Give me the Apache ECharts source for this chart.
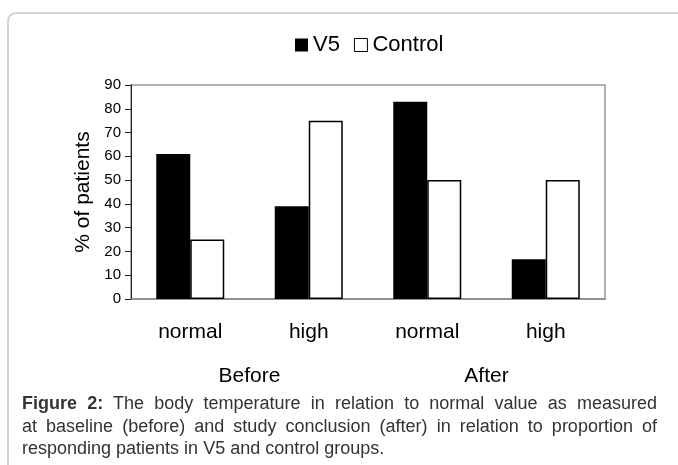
<!DOCTYPE html>
<html>
<head>
<meta charset="utf-8">
<script src="https://cdn.jsdelivr.net/npm/echarts@6/dist/echarts.min.js"></script>
<style>
    html,body{margin:0;padding:0;background:#fff;}
    #wrap{position:relative;width:678px;height:465px;overflow:hidden;}
    #chart{position:absolute;left:0;top:0;width:678px;height:465px;}
    #caption{position:absolute;left:22px;top:392px;width:635px;font-family:"Liberation Sans",Arial,sans-serif;font-size:18px;line-height:22.5px;color:#333;}
    #caption .j{text-align:justify;text-align-last:justify;white-space:nowrap;}
    #caption b{color:#333;}
</style>
</head>
<body>
<div id="wrap">
    <div id="chart"></div>
    <div id="caption">
        <div class="j"><b>Figure 2:</b> The body temperature in relation to normal value as measured</div>
        <div class="j">at baseline (before) and study conclusion (after) in relation to proportion of</div>
        <div>responding patients in V5 and control groups.</div>
    </div>
</div>
<script>
var categories=['normal','high','normal','high'];
var periods=['Before','After'];
var v5Values=[61,39,83,16.7];
var controlValues=[25,75,50,50];
var seriesNames=['V5','Control'];

var chart=(function(){
    var font='"Liberation Sans", Arial, sans-serif';

    return {
        init:function(){
            var myChart=echarts.init(document.getElementById('chart'));
            var option={
                animation:false,
                textStyle:{fontFamily:font,color:'#000'},
                graphic:[
                    {
                        type:'rect',
                        shape:{x:8,y:13,width:720,height:520,r:8},
                        style:{fill:'none',stroke:'#c8c8c8',lineWidth:1.5},
                        silent:true
                    }
                ],
                legend:{
                    top:29,
                    left:290,
                    icon:'rect',
                    itemWidth:13,
                    itemHeight:13,
                    itemGap:14,
                    textStyle:{fontSize:22,color:'#000',fontFamily:font},
                    data:[
                        {name:seriesNames[0],itemStyle:{color:'#000',borderWidth:0}},
                        {name:seriesNames[1],itemStyle:{color:'#fff',borderColor:'#000',borderWidth:1}}
                    ]
                },
                grid:{
                    left:131,
                    right:73,
                    top:85,
                    bottom:166,
                    show:true,
                    borderColor:'#999',
                    borderWidth:1.5
                },
                xAxis:[
                    {
                        type:'category',
                        data:categories,
                        axisLine:{lineStyle:{color:'#888',width:1.5}},
                        axisTick:{show:false},
                        axisLabel:{fontSize:21,color:'#000',margin:23,fontFamily:font}
                    },
                    {
                        type:'category',
                        data:periods,
                        position:'bottom',
                        offset:44,
                        axisLine:{show:false},
                        axisTick:{show:false},
                        axisLabel:{fontSize:21,color:'#000',margin:23,fontFamily:font}
                    }
                ],
                yAxis:{
                    type:'value',
                    min:0,
                    max:90,
                    interval:10,
                    name:'% of patients',
                    nameLocation:'middle',
                    nameGap:36,
                    nameTextStyle:{fontSize:21,color:'#000',fontFamily:font},
                    axisLine:{show:true,lineStyle:{color:'#222',width:1}},
                    axisTick:{show:true,length:6,lineStyle:{color:'#222'}},
                    axisLabel:{fontSize:15,color:'#000',margin:10,fontFamily:font},
                    splitLine:{show:false}
                },
                series:[
                    {
                        name:seriesNames[0],
                        type:'bar',
                        xAxisIndex:0,
                        data:v5Values,
                        barWidth:34,
                        barGap:'0%',
                        itemStyle:{color:'#000'}
                    },
                    {
                        name:seriesNames[1],
                        type:'bar',
                        xAxisIndex:0,
                        data:controlValues,
                        barWidth:34,
                        barGap:'0%',
                        itemStyle:{color:'#fff',borderColor:'#000',borderWidth:1.5}
                    }
                ]
            };
            myChart.setOption(option);
        }
    }
})();

chart.init();
</script>
</body>
</html>
